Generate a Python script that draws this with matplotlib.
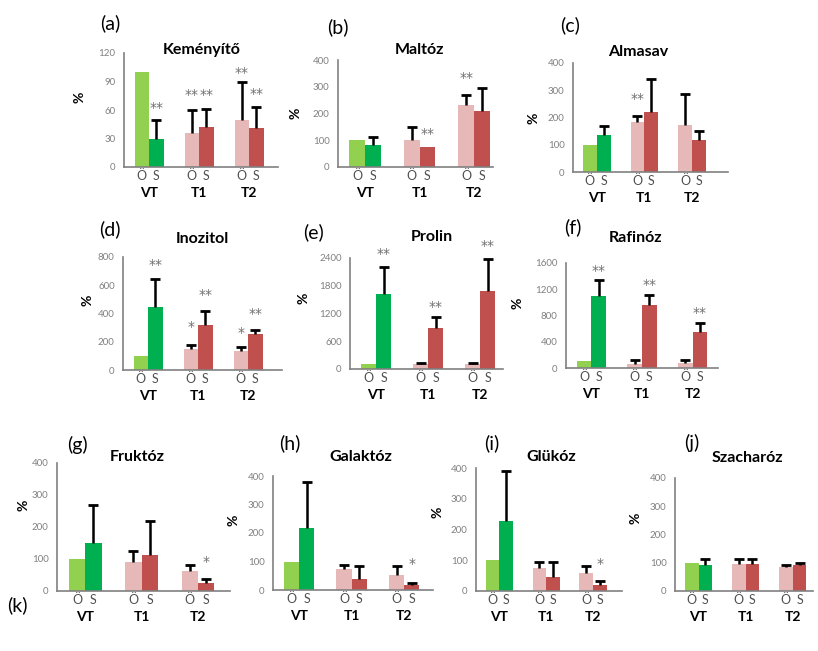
import numpy as np
import matplotlib
matplotlib.use('Agg')
import matplotlib.pyplot as plt

plt.rcParams['font.family'] = ['Lato', 'DejaVu Sans']

W, H = 818, 651

groups = ['VT', 'T1', 'T2']
bar_names = ['Ö', 'S']

# panel data: Ö (old) and S values per group, upper error sizes, significance marks
titles = ['Keményítő', 'Maltóz', 'Almasav', 'Inozitol', 'Prolin',
          'Rafinóz', 'Fruktóz', 'Galaktóz', 'Glükóz', 'Szacharóz']
letters = ['a', 'b', 'c', 'd', 'e', 'f', 'g', 'h', 'i', 'j']
ymax = [120, 400, 400, 800, 2400, 1600, 400, 400, 400, 400]
ystep = [30, 100, 100, 200, 600, 400, 100, 100, 100, 100]

o_vals = [[100, 36, 50], [100, 102, 232], [100, 184, 174], [100, 150, 133],
          [100, 110, 110], [100, 66, 77], [100, 92, 61], [100, 72, 54],
          [100, 75, 57], [100, 94, 86]]
o_err = [[0, 24, 39], [0, 48, 36], [0, 22, 112], [0, 29, 29],
         [0, 30, 25], [0, 51, 40], [0, 34, 21], [0, 17, 30],
         [0, 18, 25], [0, 21, 5]]
s_vals = [[30, 42, 41], [84, 75, 208], [136, 219, 118], [443, 317, 252],
          [1619, 881, 1683], [1097, 954, 551], [149, 113, 26], [219, 39, 16],
          [227, 46, 19], [91, 94, 91]]
s_err = [[20, 19, 22], [29, 0, 88], [32, 124, 34], [202, 102, 29],
         [587, 251, 700], [240, 158, 138], [120, 105, 11], [159, 45, 9],
         [163, 47, 12], [24, 21, 9]]

# significance marks: (group index, bar index 0=Ö 1=S, text, height)
stars = [
    [(0, 1, '**', 62), (1, 0, '**', 76), (1, 1, '**', 76), (2, 0, '**', 99), (2, 1, '**', 77)],
    [(1, 1, '**', 125), (2, 0, '**', 334)],
    [(1, 0, '**', 268)],
    [(0, 1, '**', 740), (1, 0, '*', 305), (1, 1, '**', 531), (2, 0, '*', 262), (2, 1, '**', 395)],
    [(0, 1, '**', 2490), (1, 1, '**', 1330), (2, 1, '**', 2650)],
    [(0, 1, '**', 1485), (1, 1, '**', 1265), (2, 1, '**', 832)],
    [(2, 1, '*', 92)],
    [(2, 1, '*', 92)],
    [(2, 1, '*', 88)],
    [],
]

# layout in pixels: axes box (left, top, right, bottom), x-limit right end
boxes = [(124, 53, 278, 167), (338, 60, 493, 167), (573, 63, 728, 172),
         (123, 257, 282, 370), (350, 258, 503, 369), (566, 263, 718, 368),
         (57, 463, 230, 591), (273, 476, 433, 590), (476, 468, 622, 591),
         (675, 478, 813, 591)]
xright = [2.58, 2.35, 2.76, 2.68, 2.44, 2.5, 2.57, 2.55, 2.62, 2.43]
title_pos = [(202, 50), (420, 50), (638, 52), (202, 239), (432, 237),
             (636, 238), (137, 457), (361, 457), (551, 457), (747, 458)]
letter_pos = [(110, 23), (338, 27), (570, 25), (110, 229), (313, 232),
              (573, 227), (77, 445), (290, 443), (492, 443), (692, 443)]
pct_pos = [(80, 97), (295, 113), (533, 118), (87, 300), (303, 298),
           (517, 303), (23, 505), (233, 520), (437, 512), (635, 518)]

c_vt = ['#92D050', '#00B050']
c_t = ['#E6B9B8', '#C0504D']
gray = '#808080'
w = 0.29

fig = plt.figure(figsize=(W / 100, H / 100), dpi=100)


def fx(x):
    return x / W


def fy(y):
    return 1 - y / H


x = np.arange(len(groups))
for k in range(len(titles)):
    l, t, r, b = boxes[k]
    ax = fig.add_axes([fx(l), fy(b), (r - l) / W, (b - t) / H])
    colors_o = [c_vt[0], c_t[0], c_t[0]]
    colors_s = [c_vt[1], c_t[1], c_t[1]]
    ax.bar(x - w / 2, o_vals[k], w, color=colors_o, zorder=2)
    ax.bar(x + w / 2, s_vals[k], w, color=colors_s, zorder=2)
    for xs, vals, errs in [(x - w / 2, o_vals[k], o_err[k]), (x + w / 2, s_vals[k], s_err[k])]:
        for xi, v, e in zip(xs, vals, errs):
            if e > 0:
                _, caps, _ = ax.errorbar(xi, v, yerr=[[0], [e]], fmt='none', ecolor='black',
                                         elinewidth=1.8, capsize=3.5, capthick=2, zorder=3)
                # keep only the upper cap
                for cl in caps:
                    if cl.get_ydata()[0] <= v:
                        cl.set_visible(False)
    for gi, bi, txt, yv in stars[k]:
        xpos = gi - w / 2 if bi == 0 else gi + w / 2
        ax.text(xpos, yv, txt, ha='center', va='center', color='#707070',
                fontsize=10, family='DejaVu Sans', clip_on=False)

    ax.set_xlim(-0.5, xright[k])
    ax.set_ylim(0, ymax[k])
    ax.set_yticks(np.arange(0, ymax[k] + 1, ystep[k]))
    ax.tick_params(axis='y', length=0, labelsize=7, labelcolor=gray, pad=6)
    ax.set_xticks(np.concatenate([x - w / 2, x + w / 2]))
    ax.set_xticklabels(bar_names[:1] * 3 + bar_names[1:] * 3)
    ax.tick_params(axis='x', length=0, labelsize=9, labelcolor='#505050', pad=2)
    for gi, g in enumerate(groups):
        ax.annotate(g, (gi, 0), xytext=(0, -19), textcoords='offset points',
                    ha='center', va='center', fontsize=10, fontweight='bold',
                    annotation_clip=False)
    for s in ['top', 'right']:
        ax.spines[s].set_visible(False)
    for s in ['left', 'bottom']:
        ax.spines[s].set_color(gray)
        ax.spines[s].set_linewidth(1.2)
    ax.patch.set_alpha(0)

    fig.text(fx(title_pos[k][0]), fy(title_pos[k][1]), titles[k], ha='center',
             va='center', fontsize=11.5, fontweight='bold')
    fig.text(fx(letter_pos[k][0]), fy(letter_pos[k][1]), '(' + letters[k] + ')',
             ha='center', va='center', fontsize=14)
    fig.text(fx(pct_pos[k][0]), fy(pct_pos[k][1]), '%', ha='center', va='center',
             fontsize=10, fontweight='bold', rotation=90)

fig.text(fx(17), fy(605), '(k)', ha='center', va='center', fontsize=14)

fig.savefig('out.png', dpi=100)
